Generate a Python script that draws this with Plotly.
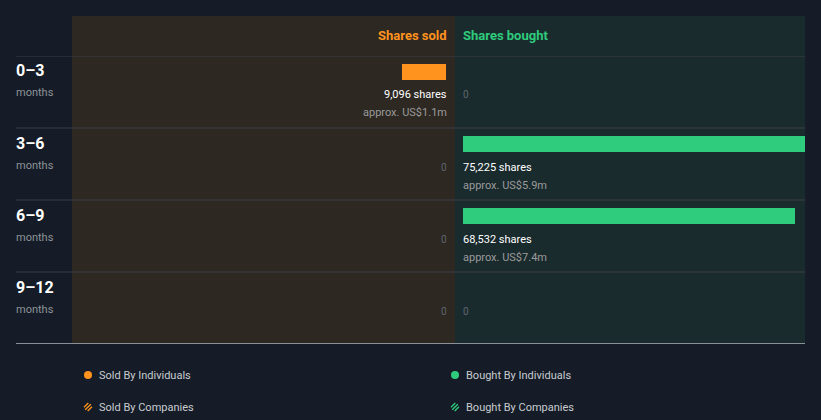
import math
import plotly.graph_objects as go

# ---- data ----
periods = ["0\u20133", "3\u20136", "6\u20139", "9\u201312"]
sold_shares = [9096, 0, 0, 0]
bought_shares = [0, 75225, 68532, 0]
sold_value = ["US$1.1m", "", "", ""]
bought_value = ["", "US$5.9m", "US$7.4m", ""]
legend_labels = ["Sold By Individuals", "Bought By Individuals",
                 "Sold By Companies", "Bought By Companies"]

W, H = 821, 420
BG = "#151c27"
ORANGE = "#ff931e"
GREEN = "#2ecc7c"
FONT = "Roboto"

def px(x):
    return x / W

def py(y):
    return 1 - y / H

rows = list(range(len(periods)))
k = 0.00485  # px per share

fig = go.Figure()
fig.add_trace(go.Bar(y=rows, x=sold_shares, orientation="h", xaxis="x", yaxis="y",
                     marker=dict(color=ORANGE, line=dict(width=0)), width=16/72,
                     hoverinfo="skip", showlegend=False))
fig.add_trace(go.Bar(y=rows, x=bought_shares, orientation="h", xaxis="x2", yaxis="y",
                     marker=dict(color=GREEN, line=dict(width=0)), width=16/72,
                     hoverinfo="skip", showlegend=False))

shapes = [
    dict(type="rect", xref="paper", yref="paper", x0=px(72), x1=px(455), y0=py(343), y1=py(16),
         fillcolor="#2d2822", line=dict(width=0), layer="below"),
    dict(type="rect", xref="paper", yref="paper", x0=px(455), x1=px(805), y0=py(343), y1=py(16),
         fillcolor="#1a2b2e", line=dict(width=0), layer="below"),
]
for i in rows:
    shapes.append(dict(type="line", xref="paper", yref="y", x0=px(16), x1=px(805),
                       y0=i - 16/72, y1=i - 16/72, line=dict(color="#3b3f44", width=1), layer="below"))
shapes.append(dict(type="line", xref="paper", yref="paper", x0=px(16), x1=px(805),
                   y0=py(343.5), y1=py(343.5), line=dict(color="#8a9099", width=1)))

ann = []
ann.append(dict(text="<b>Shares sold</b>", xref="paper", yref="paper", x=px(447), y=py(35),
                xanchor="right", yanchor="middle", showarrow=False, xshift=2,
                font=dict(family=FONT, size=13, color=ORANGE)))
ann.append(dict(text="<b>Shares bought</b>", xref="paper", yref="paper", x=px(463), y=py(35),
                xanchor="left", yanchor="middle", showarrow=False, xshift=-2,
                font=dict(family=FONT, size=13, color=GREEN)))

for i, p in enumerate(periods):
    ann.append(dict(text="<b>%s</b>" % p, xref="paper", yref="y", x=px(16), y=i, yshift=1,
                    xshift=-2, xanchor="left", yanchor="middle", showarrow=False,
                    font=dict(family=FONT, size=16, color="#ffffff")))
    ann.append(dict(text="months", xref="paper", yref="y", x=px(16), y=i, yshift=-21,
                    xshift=-2, xanchor="left", yanchor="middle", showarrow=False,
                    font=dict(family=FONT, size=11, color="#8e9399")))
    for vals, money, xx, anchor, sh in ((sold_shares, sold_value, px(447), "right", 2),
                                        (bought_shares, bought_value, px(463), "left", -2)):
        v = vals[i]
        if v > 0:
            ann.append(dict(text="{:,} shares".format(v), xref="paper", yref="y", x=xx, y=i,
                            yshift=-23, xshift=sh, xanchor=anchor, yanchor="middle", showarrow=False,
                            font=dict(family=FONT, size=11, color="#ffffff")))
            ann.append(dict(text="approx. " + money[i], xref="paper", yref="y", x=xx, y=i,
                            yshift=-41, xshift=sh, xanchor=anchor, yanchor="middle", showarrow=False,
                            font=dict(family=FONT, size=11, color="#9a9a9a")))
        else:
            ann.append(dict(text="0", xref="paper", yref="y", x=xx, y=i,
                            yshift=-23, xshift=sh, xanchor=anchor, yanchor="middle", showarrow=False,
                            font=dict(family=FONT, size=10, color="#5e656d")))

# legend
leg_pos = [(88, 375, ORANGE, False), (455, 375, GREEN, False),
           (88, 407, ORANGE, True), (455, 407, GREEN, True)]
r = 4.0
for (cx, cy, col, hatched), lab in zip(leg_pos, legend_labels):
    if not hatched:
        shapes.append(dict(type="circle", xref="paper", yref="paper",
                           x0=px(cx - r), x1=px(cx + r), y0=py(cy + r), y1=py(cy - r),
                           fillcolor=col, line=dict(width=0)))
    else:
        s = 1 / math.sqrt(2)
        for d in (-2.6, 0, 2.6):
            h = math.sqrt(max(r * r - d * d, 0))
            mx, my = cx + d * s, cy + d * s
            shapes.append(dict(type="line", xref="paper", yref="paper",
                               x0=px(mx - h * s), y0=py(my + h * s),
                               x1=px(mx + h * s), y1=py(my - h * s),
                               line=dict(color=col, width=1.3)))
    ann.append(dict(text=lab, xref="paper", yref="paper", x=px(cx + 9), y=py(cy),
                    xanchor="left", yanchor="middle", showarrow=False,
                    font=dict(family=FONT, size=11, color="#c8ccd0")))

fig.update_layout(
    width=W, height=H, margin=dict(l=0, r=0, t=0, b=0),
    paper_bgcolor=BG, plot_bgcolor="rgba(0,0,0,0)",
    bargap=0, barmode="overlay",
    xaxis=dict(domain=[px(72), px(446)], range=[374 / k, 0], visible=False, fixedrange=True),
    xaxis2=dict(domain=[px(463), px(805)], range=[0, 342 / k], visible=False, fixedrange=True),
    yaxis=dict(domain=[py(344), py(56)], range=[(344 - 72) / 72, (56 - 72) / 72],
               visible=False, fixedrange=True),
    shapes=shapes, annotations=ann, showlegend=False,
)

fig.write_html("out.html")
